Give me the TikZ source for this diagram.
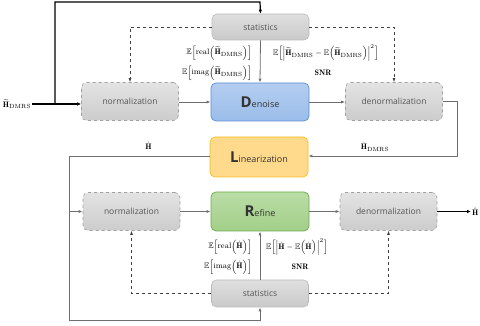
\documentclass[tikz,border=0pt]{standalone}
\usepackage{amsmath,amssymb}
\usepackage{fontspec}
\newfontfamily\boxfont{Open Sans}
\usetikzlibrary{arrows.meta}
\definecolor{txtgray}{HTML}{555555}
\definecolor{linegray}{HTML}{6E6E6E}
\definecolor{dashgray}{HTML}{A0A0A0}
\definecolor{bluetop}{HTML}{B4CDF0}
\definecolor{bluebot}{HTML}{9ABDEA}
\definecolor{blueline}{HTML}{5B8FD0}
\definecolor{yelfill}{HTML}{FFD98C}
\definecolor{yelline}{HTML}{F5BE1E}
\definecolor{grtop}{HTML}{BADDA6}
\definecolor{grbot}{HTML}{A2CF88}
\definecolor{grline}{HTML}{6EAA50}
\tikzset{
  graybox/.style={rounded corners=5pt, top color=gray!22, bottom color=gray!40, draw=dashgray, dashed, line width=0.6pt, minimum width=97pt, minimum height=38pt, font=\boxfont\fontsize{8.5}{10}\selectfont, text=txtgray},
  statbox/.style={rounded corners=5pt, top color=gray!25, bottom color=gray!42, draw=gray!55, line width=0.6pt, minimum width=97pt, minimum height=26pt, font=\boxfont\fontsize{8.5}{10}\selectfont, text=txtgray},
  bluebox/.style={rounded corners=5pt, top color=bluetop, bottom color=bluebot, draw=blueline, line width=0.7pt, minimum width=98pt, minimum height=38pt, font=\boxfont\fontsize{9}{10}\selectfont, text=black!80},
  yellowbox/.style={rounded corners=5pt, fill=yelfill, draw=yelline, line width=0.7pt, minimum width=98pt, minimum height=40pt, font=\boxfont\fontsize{9}{10}\selectfont, text=black!80},
  greenbox/.style={rounded corners=5pt, top color=grtop, bottom color=grbot, draw=grline, line width=0.7pt, minimum width=98pt, minimum height=39pt, font=\boxfont\fontsize{9}{10}\selectfont, text=black!80},
  conn/.style={draw=linegray, line width=0.8pt, -{Latex[length=4pt,width=3pt]}},
  dconn/.style={draw=black!75, line width=0.6pt, dashed, -{Latex[length=4pt,width=3pt]}},
  tconn/.style={draw=black, line width=1.2pt},
  lab/.style={font=\fontsize{8}{9}\selectfont, inner sep=1pt},
}
\newcommand{\Ht}{\widetilde{\mathbf{H}}_{\mathrm{DMRS}}}
\newcommand{\Hdm}{\dot{\mathbf{H}}_{\mathrm{DMRS}}}
\newcommand{\Hd}{\dot{\mathbf{H}}}
\newcommand{\bigletter}[1]{{\fontsize{15}{15}\selectfont\bfseries #1}}
\begin{document}
\begin{tikzpicture}[x=1pt,y=-1pt]
\useasboundingbox (0,0) rectangle (480,326);
% nodes
\node[statbox] (stat1) at (260.5,27) {statistics};
\node[graybox] (norm1) at (130,101.5) {normalization};
\node[bluebox] (den) at (260,102) {\bigletter{D}enoise};
\node[graybox] (denorm1) at (394,101.5) {denormalization};
\node[yellowbox] (lin) at (259,157) {\bigletter{L}inearization};
\node[graybox] (norm2) at (131.5,211.5) {normalization};
\node[greenbox] (ref) at (260,211.5) {\bigletter{R}efine};
\node[graybox] (denorm2) at (388.5,211.5) {denormalization};
\node[statbox,minimum height=27pt] (stat2) at (260,293.5) {statistics};
\node[lab] (in) at (17,104) {$\Ht$};
\node[lab,anchor=west] (out) at (471,211.5) {$\hat{\mathbf{H}}$};
% coordinates
\coordinate (j1) at (55,104);
\coordinate (t1) at (55,2);
\coordinate (t2) at (260,2);
\coordinate (r1) at (457,101.5);
\coordinate (r2) at (457,156);
\coordinate (l1) at (69,156);
\coordinate (l2) at (69,211.5);
\coordinate (b1) at (69,320);
\coordinate (b2) at (260,320);
% top part
\draw[tconn] (in.east) -- (j1);
\draw[tconn,-{Latex[length=4pt,width=3.5pt]}] (j1) -- (norm1.west |- j1);
\draw[tconn,-{Latex[length=4pt,width=3.5pt]}] (j1) -- (t1) -- (t2) -- (stat1.north);
\draw[dconn] (stat1.west) -| (norm1.north);
\draw[dconn] (stat1.east) -| (denorm1.north);
\draw[conn] (stat1.south) -- (den.north);
\draw[conn] (norm1.east |- den) -- (den.west);
\draw[conn] (den.east) -- (denorm1.west |- den);
\draw[conn] (denorm1.east) -- (r1) -- (r2) -- (lin.east |- r2);
\draw[conn] (lin.west |- r2) -- (l1) -- (l2) -- (norm2.west);
\draw[conn] (l2) -- (b1) -- (b2) -- (stat2.south);
% bottom part
\draw[conn] (norm2.east) -- (ref.west);
\draw[conn] (ref.east) -- (denorm2.west);
\draw[tconn,-{Latex[length=4pt,width=3.5pt]}] (denorm2.east) -- (out.west);
\draw[conn] (stat2.north) -- (ref.south);
\draw[dconn] (stat2.west) -| (norm2.south);
\draw[dconn] (stat2.east) -| (denorm2.south);
% labels
\node[lab,anchor=east] (a1) at (253,53) {$\mathbb{E}\Big[\mathrm{real}\Big(\Ht\Big)\Big]$};
\node[lab,anchor=east] (a2) at (253,73) {$\mathbb{E}\Big[\mathrm{imag}\Big(\Ht\Big)\Big]$};
\node[lab,anchor=west] (a3) at (272,53) {$\mathbb{E}\Big[\Big|\Ht-\mathbb{E}\Big(\Ht\Big)\Big|^2\Big]$};
\node[lab] (a4) at (323,73) {$\mathbf{SNR}$};
\node[lab] (hl) at (148.5,146) {$\Hd$};
\node[lab] (hr) at (375,147) {$\Hdm$};
\node[lab,anchor=east] (b1l) at (253,247) {$\mathbb{E}\Big[\mathrm{real}\Big(\Hd\Big)\Big]$};
\node[lab,anchor=east] (b2l) at (253,267) {$\mathbb{E}\Big[\mathrm{imag}\Big(\Hd\Big)\Big]$};
\node[lab,anchor=west] (b3l) at (265,247) {$\mathbb{E}\Big[\Big|\Hd-\mathbb{E}\Big(\Hd\Big)\Big|^2\Big]$};
\node[lab] (b4l) at (300,267) {$\mathbf{SNR}$};
\end{tikzpicture}
\end{document}
